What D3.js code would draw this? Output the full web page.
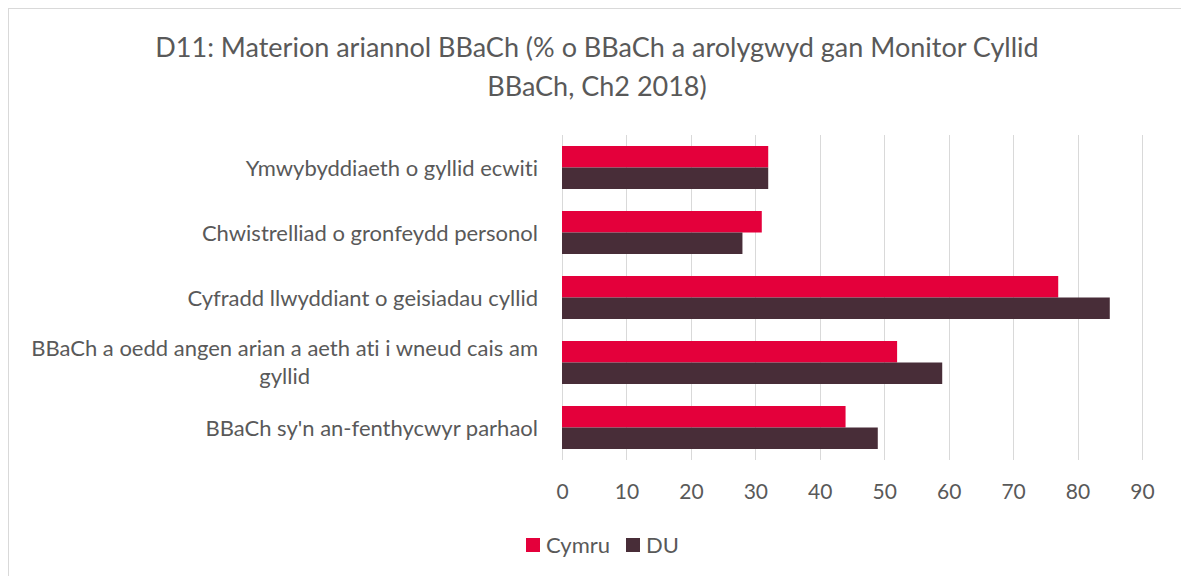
<!DOCTYPE html>
<html>
<head>
<meta charset="utf-8">
<script src="https://cdn.jsdelivr.net/npm/d3@7"></script>
<style>
  body { margin: 0; background: #fff; }
  text { font-family: Lato, "Open Sans", sans-serif; fill: #595959; font-variant-ligatures: none; }
</style>
</head>
<body>
<svg width="1181" height="576"></svg>
<script>
var categories = [
  "Ymwybyddiaeth o gyllid ecwiti",
  "Chwistrelliad o gronfeydd personol",
  "Cyfradd llwyddiant o geisiadau cyllid",
  "BBaCh a oedd angen arian a aeth ati i wneud cais am|gyllid",
  "BBaCh sy'n an-fenthycwyr parhaol"
];
var cymru = [32, 31, 77, 52, 44];
var du = [32, 28, 85, 59, 49];
var seriesNames = ["Cymru", "DU"];
var seriesColors = ["#e4003b", "#482d38"];
var ticks = [0, 10, 20, 30, 40, 50, 60, 70, 80, 90];

var svg = d3.select('svg');

// chart border
svg.append('rect')
  .attr('x', 8.5).attr('y', 8.5)
  .attr('width', 1190).attr('height', 590)
  .attr('fill', 'none')
  .attr('stroke', '#d9d9d9');

// title
var title = svg.append('text')
  .attr('text-anchor', 'middle')
  .style('font-size', '27px');
title.append('tspan').attr('x', 597).attr('y', 57)
  .text('D11: Materion ariannol BBaCh (% o BBaCh a arolygwyd gan Monitor Cyllid');
title.append('tspan').attr('x', 597).attr('y', 96)
  .text('BBaCh, Ch2 2018)');

var x = d3.scaleLinear().domain([0, 90]).range([562, 1142]);
var y = d3.scaleBand().domain(categories).range([135, 460]);
var inner = d3.scaleBand().domain(seriesNames).range([0, 43]);
var pad = (y.bandwidth() - 43) / 2;

// gridlines
svg.selectAll('.grid')
  .data(ticks).enter()
  .append('line')
  .attr('x1', function(d){ return Math.round(x(d)) + 0.5 })
  .attr('x2', function(d){ return Math.round(x(d)) + 0.5 })
  .attr('y1', 135)
  .attr('y2', 460)
  .attr('stroke', '#d9d9d9');

// bars
var groups = svg.selectAll('.grp')
  .data(categories).enter()
  .append('g')
  .attr('transform', function(d){ return 'translate(0,' + (y(d) + pad) + ')' });

groups.selectAll('rect')
  .data(function(d, i){ return [{s: 'Cymru', v: cymru[i]}, {s: 'DU', v: du[i]}] })
  .enter()
  .append('rect')
  .attr('x', x(0))
  .attr('y', function(d){ return inner(d.s) })
  .attr('width', function(d){ return x(d.v) - x(0) })
  .attr('height', inner.bandwidth())
  .attr('fill', function(d, i){ return seriesColors[i] });

// x axis
var xAxis = svg.append('g')
  .attr('transform', 'translate(0,460)')
  .call(d3.axisBottom(x).tickValues(ticks).tickSize(0).tickPadding(24));
xAxis.select('.domain').remove();
xAxis.selectAll('text')
  .style('font-size', '21px')
  .attr('fill', '#595959')
  .style('font-family', 'Lato, sans-serif');

// category labels
svg.selectAll('.cat')
  .data(categories).enter()
  .append('text')
  .style('font-size', '22px')
  .attr('text-anchor', 'end')
  .each(function(d){
    var lines = d.split('|');
    var cy = y(d) + y.bandwidth() / 2;
    var t = d3.select(this);
    if (lines.length === 1) {
      t.attr('x', 538).attr('y', cy + 8).text(lines[0]);
    } else {
      var first = t.append('tspan').attr('x', 538).attr('y', cy - 7).text(lines[0]);
      var w = first.node().getComputedTextLength();
      t.append('tspan').attr('x', 538 - w / 2).attr('y', cy + 21)
        .attr('text-anchor', 'middle').text(lines[1]);
    }
  });

// legend
var legend = svg.selectAll('.leg')
  .data(seriesNames).enter()
  .append('g')
  .attr('transform', function(d, i){ return 'translate(' + (526 + i * 100) + ',538)' });
legend.append('rect')
  .attr('width', 14).attr('height', 14)
  .attr('fill', function(d, i){ return seriesColors[i] });
legend.append('text')
  .attr('x', 20).attr('y', 15)
  .style('font-size', '22px')
  .text(function(d){ return d });
</script>
</body>
</html>
